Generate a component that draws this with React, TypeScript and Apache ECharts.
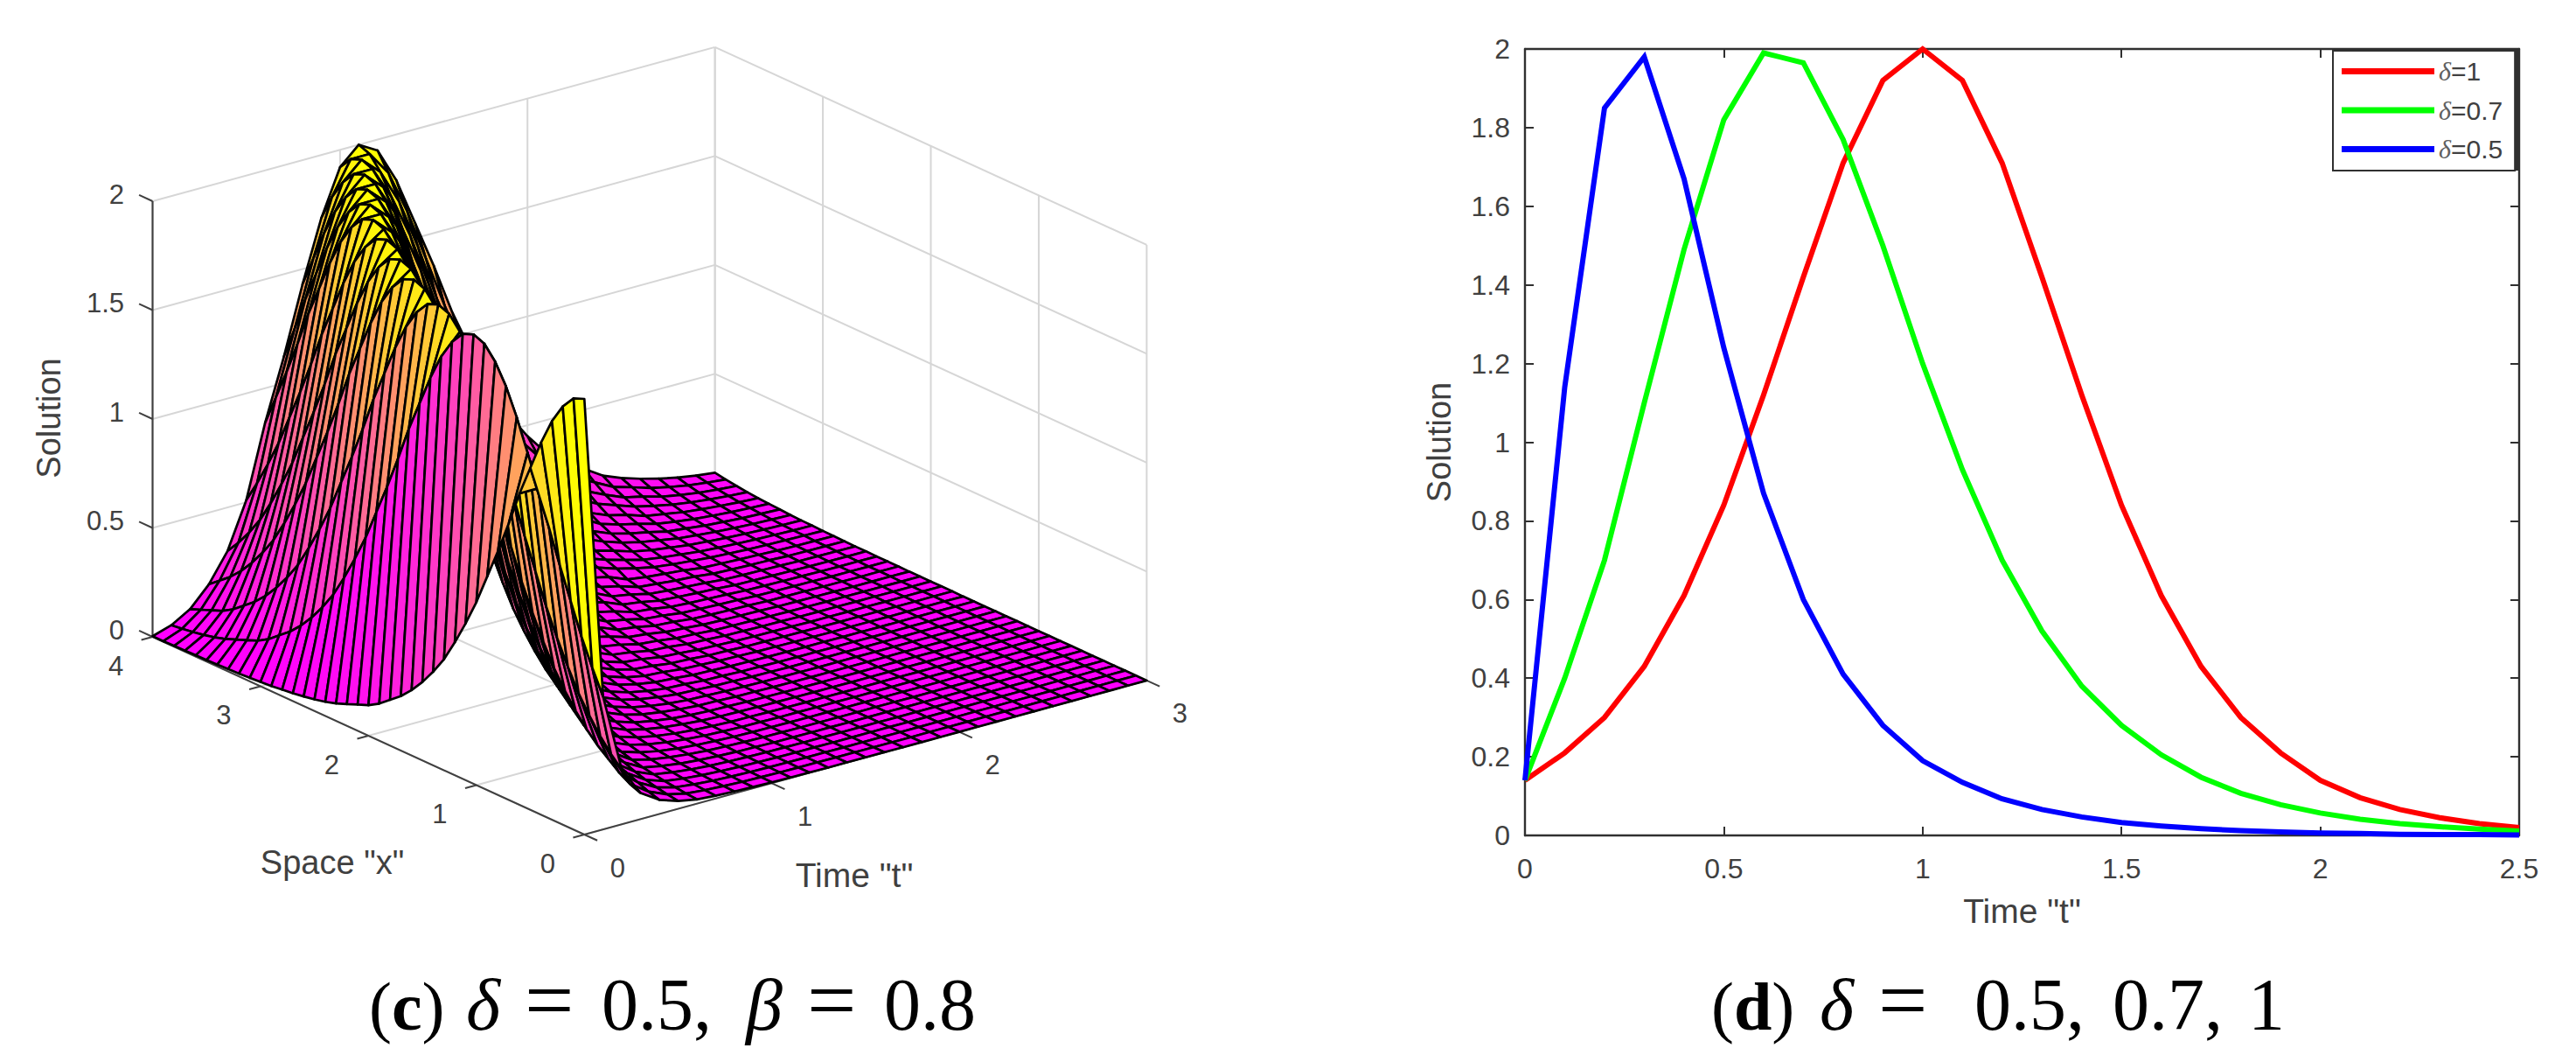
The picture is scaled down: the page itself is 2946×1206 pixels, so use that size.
import React, { useEffect, useRef } from "react";
import * as echarts from "echarts";

// ---------- right panel data ----------
const timeSteps = [0,0.1,0.2,0.3,0.4,0.5,0.6,0.7,0.8,0.9,1,1.1,1.2,1.3,1.4,1.5,1.6,1.7,1.8,1.9,2,2.1,2.2,2.3,2.4,2.5];
const delta1 = [0.14,0.21,0.30,0.43,0.61,0.84,1.12,1.42,1.71,1.92,2,1.92,1.71,1.42,1.12,0.84,0.61,0.43,0.30,0.21,0.14,0.096,0.066,0.045,0.03,0.02];
const delta07 = [0.14,0.4,0.7,1.1,1.49,1.82,1.99,1.965,1.77,1.5,1.2,0.93,0.7,0.52,0.38,0.28,0.205,0.148,0.107,0.078,0.057,0.041,0.03,0.022,0.016,0.011];
const delta05 = [0.14,1.14,1.85,1.98,1.67,1.24,0.87,0.6,0.41,0.28,0.19,0.135,0.093,0.066,0.047,0.033,0.024,0.017,0.012,0.009,0.006,0.005,0.003,0.002,0.002,0.001];

// ---------- left panel data: z per time row (t = 0 .. 3), per space column (x = 0 .. 4) ----------
const gridT = [0,0.1,0.2,0.3,0.4,0.5,0.6,0.7,0.8,0.9,1,1.1,1.2,1.3,1.4,1.5,1.6,1.7,1.8,1.9,2,2.1,2.2,2.3,2.4,2.5,2.6,2.7,2.8,2.9,3];
const gridX = [0,0.1,0.2,0.3,0.4,0.5,0.6,0.7,0.8,0.9,1,1.1,1.2,1.3,1.4,1.5,1.6,1.7,1.8,1.9,2,2.1,2.2,2.3,2.4,2.5,2.6,2.7,2.8,2.9,3,3.1,3.2,3.3,3.4,3.5,3.6,3.7,3.8,3.9,4];
const surfaceZ = [
[2,1.98,1.92,1.83,1.71,1.57,1.43,1.27,1.12,.98,.84,.72,.61,.51,.43,.36,.3,.25,.21,.17,.14,.12,.1,.08,.065,.053,.044,.036,.03,.024,.02,.016,.013,.011,.009,.007,.006,.005,.004,.003,.003],
[.61,.72,.84,.98,1.12,1.27,1.43,1.57,1.71,1.83,1.92,1.98,2,1.98,1.92,1.83,1.71,1.57,1.43,1.27,1.12,.98,.84,.72,.61,.51,.43,.36,.3,.25,.21,.17,.14,.12,.1,.08,.065,.053,.044,.036,.03],
[.25,.3,.36,.43,.51,.61,.72,.84,.98,1.12,1.27,1.43,1.57,1.71,1.83,1.92,1.98,2,1.98,1.92,1.83,1.71,1.57,1.43,1.27,1.12,.98,.84,.72,.61,.51,.43,.36,.3,.25,.21,.17,.14,.12,.1,.08],
[.12,.14,.17,.21,.25,.3,.36,.43,.51,.61,.72,.84,.98,1.12,1.27,1.43,1.57,1.71,1.83,1.92,1.98,2,1.98,1.92,1.83,1.71,1.57,1.43,1.27,1.12,.98,.84,.72,.61,.51,.43,.36,.3,.25,.21,.17],
[.065,.08,.1,.12,.14,.17,.21,.25,.3,.36,.43,.51,.61,.72,.84,.98,1.12,1.27,1.43,1.57,1.71,1.83,1.92,1.98,2,1.98,1.92,1.83,1.71,1.57,1.43,1.27,1.12,.98,.84,.72,.61,.51,.43,.36,.3],
[.036,.044,.053,.065,.08,.1,.12,.14,.17,.21,.25,.3,.36,.43,.51,.61,.72,.84,.98,1.12,1.27,1.43,1.57,1.71,1.83,1.92,1.98,2,1.98,1.92,1.83,1.71,1.57,1.43,1.27,1.12,.98,.84,.72,.61,.51],
[.02,.024,.03,.036,.044,.053,.065,.08,.1,.12,.14,.17,.21,.25,.3,.36,.43,.51,.61,.72,.84,.98,1.12,1.27,1.43,1.57,1.71,1.83,1.92,1.98,2,1.98,1.92,1.83,1.71,1.57,1.43,1.27,1.12,.98,.84],
[.013,.016,.02,.024,.03,.036,.044,.053,.065,.08,.1,.12,.14,.17,.21,.25,.3,.36,.43,.51,.61,.72,.84,.98,1.12,1.27,1.43,1.57,1.71,1.83,1.92,1.98,2,1.98,1.92,1.83,1.71,1.57,1.43,1.27,1.12],
[.009,.011,.013,.016,.02,.024,.03,.036,.044,.053,.065,.08,.1,.12,.14,.17,.21,.25,.3,.36,.43,.51,.61,.72,.84,.98,1.12,1.27,1.43,1.57,1.71,1.83,1.92,1.98,2,1.98,1.92,1.83,1.71,1.57,1.43],
[.006,.007,.009,.011,.013,.016,.02,.024,.03,.036,.044,.053,.065,.08,.1,.12,.14,.17,.21,.25,.3,.36,.43,.51,.61,.72,.84,.98,1.12,1.27,1.43,1.57,1.71,1.83,1.92,1.98,2,1.98,1.92,1.83,1.71],
[.004,.005,.006,.007,.009,.011,.013,.016,.02,.024,.03,.036,.044,.053,.065,.08,.1,.12,.14,.17,.21,.25,.3,.36,.43,.51,.61,.72,.84,.98,1.12,1.27,1.43,1.57,1.71,1.83,1.92,1.98,2,1.98,1.92],
[.003,.003,.004,.005,.006,.007,.009,.011,.013,.016,.02,.024,.03,.036,.044,.053,.065,.08,.1,.12,.14,.17,.21,.25,.3,.36,.43,.51,.61,.72,.84,.98,1.12,1.27,1.43,1.57,1.71,1.83,1.92,1.98,2],
[.002,.002,.003,.003,.004,.005,.006,.007,.009,.011,.013,.016,.02,.024,.03,.036,.044,.053,.065,.08,.1,.12,.14,.17,.21,.25,.3,.36,.43,.51,.65,.77,.90,1.04,1.18,1.33,1.49,1.63,1.76,1.87,1.95],
[.001,.002,.002,.002,.003,.003,.004,.005,.006,.007,.009,.011,.013,.016,.02,.024,.03,.036,.044,.053,.065,.08,.1,.12,.14,.17,.21,.25,.3,.36,.49,.58,.68,.80,.94,1.08,1.22,1.38,1.53,1.67,1.79],
[.001,.001,.002,.002,.002,.003,.003,.004,.005,.006,.007,.009,.011,.013,.016,.02,.024,.03,.036,.044,.053,.065,.08,.1,.12,.14,.17,.21,.25,.3,.36,.43,.51,.61,.72,.84,.98,1.12,1.27,1.43,1.57],
[.001,.001,.001,.001,.002,.002,.002,.003,.003,.004,.005,.006,.007,.009,.011,.013,.016,.02,.024,.03,.036,.044,.053,.065,.08,.1,.12,.14,.17,.21,.275,.33,.395,.47,.56,.66,.78,.91,1.05,1.19,1.35],
[.001,.001,.001,.001,.001,.002,.002,.002,.003,.003,.004,.005,.006,.007,.009,.011,.013,.016,.02,.024,.03,.036,.044,.053,.065,.08,.1,.12,.14,.17,.205,.245,.295,.35,.42,.50,.60,.71,.83,.97,1.11],
[0,0,.001,.001,.001,.001,.001,.002,.002,.002,.003,.003,.004,.005,.006,.007,.009,.011,.013,.016,.02,.024,.03,.036,.044,.053,.065,.08,.1,.12,.155,.19,.23,.275,.33,.395,.47,.56,.66,.78,.91],
[0,0,0,.001,.001,.001,.001,.001,.002,.002,.002,.003,.003,.004,.005,.006,.007,.009,.011,.013,.016,.02,.024,.03,.036,.044,.053,.065,.08,.1,.12,.14,.17,.21,.25,.3,.36,.43,.51,.61,.72],
[0,0,0,0,0,.001,.001,.001,.001,.001,.002,.002,.002,.003,.003,.004,.005,.006,.007,.009,.011,.013,.016,.02,.024,.03,.036,.044,.053,.065,.092,.11,.13,.16,.195,.235,.28,.335,.40,.48,.57],
[0,0,0,0,0,0,.001,.001,.001,.001,.001,.002,.002,.002,.003,.003,.004,.005,.006,.007,.009,.011,.013,.016,.02,.024,.03,.036,.044,.053,.07,.086,.105,.125,.15,.185,.22,.265,.315,.38,.45],
[0,0,0,0,0,0,0,.001,.001,.001,.001,.001,.002,.002,.002,.003,.003,.004,.005,.006,.007,.009,.011,.013,.016,.02,.024,.03,.036,.044,.052,.063,.078,.096,.115,.137,.165,.205,.245,.295,.35],
[0,0,0,0,0,0,0,0,.001,.001,.001,.001,.001,.002,.002,.002,.003,.003,.004,.005,.006,.007,.009,.011,.013,.016,.02,.024,.03,.036,.041,.05,.061,.075,.092,.11,.13,.16,.195,.235,.28],
[0,0,0,0,0,0,0,0,0,0,.001,.001,.001,.001,.001,.002,.002,.002,.003,.003,.004,.005,.006,.007,.009,.011,.013,.016,.02,.024,.033,.04,.049,.06,.074,.09,.108,.13,.155,.19,.23],
[0,0,0,0,0,0,0,0,0,0,0,.001,.001,.001,.001,.001,.002,.002,.002,.003,.003,.004,.005,.006,.007,.009,.011,.013,.016,.02,.025,.03,.037,.045,.054,.066,.08,.1,.12,.145,.175],
[0,0,0,0,0,0,0,0,0,0,0,0,.001,.001,.001,.001,.001,.002,.002,.002,.003,.003,.004,.005,.006,.007,.009,.011,.013,.016,.02,.024,.03,.036,.044,.053,.065,.08,.1,.12,.14],
[0,0,0,0,0,0,0,0,0,0,0,0,0,.001,.001,.001,.001,.001,.002,.002,.002,.003,.003,.004,.005,.006,.007,.009,.011,.013,.015,.019,.023,.028,.034,.041,.05,.062,.076,.093,.113],
[0,0,0,0,0,0,0,0,0,0,0,0,0,0,0,.001,.001,.001,.001,.001,.002,.002,.002,.003,.003,.004,.005,.006,.007,.009,.012,.015,.018,.022,.027,.033,.04,.049,.06,.074,.09],
[0,0,0,0,0,0,0,0,0,0,0,0,0,0,0,0,.001,.001,.001,.001,.001,.002,.002,.002,.003,.003,.004,.005,.006,.007,.01,.012,.014,.017,.021,.026,.032,.039,.047,.058,.071],
[0,0,0,0,0,0,0,0,0,0,0,0,0,0,0,0,0,.001,.001,.001,.001,.001,.002,.002,.002,.003,.003,.004,.005,.006,.008,.009,.011,.014,.017,.021,.025,.031,.038,.047,.057],
[0,0,0,0,0,0,0,0,0,0,0,0,0,0,0,0,0,0,.001,.001,.001,.001,.001,.002,.002,.002,.003,.003,.004,.005,.006,.008,.009,.011,.014,.017,.02,.025,.031,.038,.046],
];

const zTicks = [0, 0.5, 1, 1.5, 2];
const xTicks = [0, 1, 2, 3, 4];
const tTicks = [0, 1, 2, 3];
const zLabels = ["0", "0.5", "1", "1.5", "2"];

// 3D projection: view-plane units per data unit
const KT = [214.3, 58.7];
const KX = [123.4, 56.5];
const KZ = 249;

const AXIS = "#404040";
const WALL = "#d6d6d6";
const SANS = "'Liberation Sans', Arial, sans-serif";
const SERIF = "'Liberation Serif', 'Times New Roman', serif";

type Seg = { a: number[]; b: number[]; color: string; width: number };
type Lab = { p: number[]; dx: number; dy: number; text: string; align: string };

const project = (api: any, p: number[]) => {
  const [t, x, z] = p;
  return api.coord([KT[0] * t - KX[0] * x, KT[1] * t + KX[1] * x + KZ * z]);
};

const buildFrame = () => {
  const segs: Seg[] = [];
  const wall = (a: number[], b: number[]) => segs.push({ a, b, color: WALL, width: 2 });
  const dark = (a: number[], b: number[], width = 2) => segs.push({ a, b, color: AXIS, width });
  zTicks.forEach((z) => {
    if (z > 0) {
      wall([0, 4, z], [3, 4, z]);
      wall([3, 4, z], [3, 0, z]);
    }
  });
  tTicks.forEach((t) => {
    if (t > 0) wall([t, 4, 0], [t, 4, 2]);
    wall([t, 0, 0], [t, 4, 0]);
  });
  xTicks.forEach((x) => {
    wall([3, x, 0], [3, x, 2]);
    wall([0, x, 0], [3, x, 0]);
  });
  dark([0, 4, 0], [0, 4, 2], 2.2);
  dark([0, 4, 0], [0, 0, 0]);
  dark([0, 0, 0], [3, 0, 0]);
  zTicks.forEach((z) => dark([0, 4, z], [0, 4.125, z]));
  xTicks.forEach((x) => dark([0, x, 0], [-0.06, x, 0]));
  tTicks.forEach((t) => dark([t, 0, 0], [t, -0.12, 0]));
  return segs;
};

const buildLabels = () => {
  const labs: Lab[] = [];
  zTicks.forEach((z, i) => labs.push({ p: [0, 4, z], dx: -32.5, dy: -8, text: zLabels[i], align: "right" }));
  xTicks.forEach((x) => labs.push({ p: [0, x, 0], dx: -42, dy: 33, text: String(x), align: "center" }));
  tTicks.forEach((t) => labs.push({ p: [t, 0, 0], dx: 38, dy: 38, text: String(t), align: "center" }));
  return labs;
};

const buildCells = () => {
  const cells: number[][] = [];
  for (let j = gridX.length - 2; j >= 0; j--) {
    for (let i = gridT.length - 2; i >= 0; i--) cells.push([i, j]);
  }
  return cells;
};

const zColor = (z: number) => {
  const g = Math.round(255 * Math.min(1, z / 2));
  return `rgb(255,${g},${255 - g})`;
};

const capPiece = (text: string, x: number, y: number, size: number, extra: any = {}) => ({
  type: "text",
  x,
  y,
  z: 5,
  style: {
    text,
    fontFamily: SERIF,
    fontSize: size,
    fill: "#000000",
    textAlign: "left",
    textVerticalAlign: "middle",
    ...extra,
  },
});

const parenRich = {
  r: { fontFamily: SERIF, fontSize: 78, fill: "#000000" },
  b: { fontFamily: SERIF, fontSize: 78, fontWeight: "bold", fill: "#000000" },
};

export default function App() {
  const ref = useRef<HTMLDivElement>(null);
  useEffect(() => {
    document.body.style.margin = "0";
    const chart = echarts.init(ref.current!, null, { renderer: "svg" });
    const segs = buildFrame();
    const labs = buildLabels();
    const hiddenAxis = { show: false, type: "value" as const };
    const boxLine = { show: true, onZero: false, lineStyle: { color: "#303030", width: 2.4 } };
    const boxTick = { show: true, inside: true, length: 10, lineStyle: { color: "#303030", width: 2 } };
    const lineSeries = (name: string, values: number[], color: string) => ({
      name,
      type: "line",
      xAxisIndex: 1,
      yAxisIndex: 1,
      data: timeSteps.map((t, i) => [t, values[i]]),
      showSymbol: false,
      symbol: "none",
      clip: false,
      color,
      lineStyle: { color, width: 6, join: "miter" },
      z: 3,
    });
    chart.setOption({
      animation: false,
      backgroundColor: "#ffffff",
      grid: [
        { left: 174.5, top: 54, width: 1136.9, height: 900, show: false },
        { left: 1744, top: 56, width: 1137, height: 899, show: false },
      ],
      xAxis: [
        { ...hiddenAxis, gridIndex: 0, min: -493.6, max: 642.9 },
        {
          type: "value", gridIndex: 1, min: 0, max: 2.5, interval: 0.5, position: "bottom",
          axisLine: boxLine, axisTick: boxTick, splitLine: { show: false },
          axisLabel: { color: AXIS, fontFamily: SANS, fontSize: 32, margin: 22 },
          name: 'Time "t"', nameLocation: "middle", nameGap: 67,
          nameTextStyle: { color: AXIS, fontFamily: SANS, fontSize: 39 },
        },
        {
          type: "value", gridIndex: 1, min: 0, max: 2.5, interval: 0.5, position: "top",
          axisLine: boxLine, axisTick: boxTick, splitLine: { show: false }, axisLabel: { show: false },
        },
      ],
      yAxis: [
        { ...hiddenAxis, gridIndex: 0, min: 0, max: 900 },
        {
          type: "value", gridIndex: 1, min: 0, max: 2, interval: 0.2, position: "left",
          axisLine: boxLine, axisTick: boxTick, splitLine: { show: false },
          axisLabel: { color: AXIS, fontFamily: SANS, fontSize: 32, margin: 17 },
          name: "Solution", nameLocation: "middle", nameGap: 79,
          nameTextStyle: { color: AXIS, fontFamily: SANS, fontSize: 38 },
        },
        {
          type: "value", gridIndex: 1, min: 0, max: 2, interval: 0.2, position: "right",
          axisLine: boxLine, axisTick: boxTick, splitLine: { show: false }, axisLabel: { show: false },
        },
      ],
      legend: {
        data: ["δ=1", "δ=0.7", "δ=0.5"],
        orient: "vertical",
        left: 2668,
        top: 57,
        padding: [9.5, 14, 9.5, 10],
        itemWidth: 106,
        itemHeight: 7,
        itemGap: 14.5,
        icon: "rect",
        backgroundColor: "#ffffff",
        borderColor: "#303030",
        borderWidth: 2,
        borderRadius: 0,
        z: 10,
        formatter: (name: string) => `{d|δ}{n|${name.slice(1)}}`,
        textStyle: {
          padding: [0, 0, 0, 0],
          rich: {
            d: { fontFamily: SERIF, fontStyle: "italic", fontSize: 30, color: "#606060", lineHeight: 30 },
            n: { fontFamily: SANS, fontSize: 30, color: AXIS, lineHeight: 30 },
          },
        },
      },
      series: [
        {
          type: "custom",
          name: "frame",
          coordinateSystem: "cartesian2d",
          xAxisIndex: 0,
          yAxisIndex: 0,
          clip: false,
          silent: true,
          progressive: 0,
          data: segs.map(() => [0, 0]),
          renderItem: (params: any, api: any) => {
            const s = segs[params.dataIndex];
            const p0 = project(api, s.a);
            const p1 = project(api, s.b);
            return {
              type: "line",
              shape: { x1: p0[0], y1: p0[1], x2: p1[0], y2: p1[1] },
              style: { stroke: s.color, lineWidth: s.width },
            };
          },
          z: 1,
        },
        {
          type: "custom",
          name: "surface",
          coordinateSystem: "cartesian2d",
          xAxisIndex: 0,
          yAxisIndex: 0,
          clip: false,
          silent: true,
          progressive: 0,
          data: buildCells(),
          renderItem: (_p: any, api: any) => {
            const i = api.value(0);
            const j = api.value(1);
            const pts = [
              [i, j], [i + 1, j], [i + 1, j + 1], [i, j + 1],
            ].map(([a, b]) => project(api, [gridT[a], gridX[b], surfaceZ[a]?.[b] ?? 0]));
            return {
              type: "polygon",
              shape: { points: pts },
              style: { fill: zColor(surfaceZ[i]?.[j] ?? 0), stroke: "#000000", lineWidth: 2.7, lineJoin: "round" },
            };
          },
          z: 2,
        },
        {
          type: "custom",
          name: "labels",
          coordinateSystem: "cartesian2d",
          xAxisIndex: 0,
          yAxisIndex: 0,
          clip: false,
          silent: true,
          progressive: 0,
          data: labs.map(() => [0, 0]),
          renderItem: (params: any, api: any) => {
            const l = labs[params.dataIndex];
            const p = project(api, l.p);
            return {
              type: "text",
              x: p[0] + l.dx,
              y: p[1] + l.dy,
              style: {
                text: l.text, fill: AXIS, fontFamily: SANS, fontSize: 31,
                textAlign: l.align, textVerticalAlign: "middle",
              },
            };
          },
          z: 3,
        },
        lineSeries("δ=1", delta1, "#ff0000"),
        lineSeries("δ=0.7", delta07, "#00ff00"),
        lineSeries("δ=0.5", delta05, "#0000ff"),
      ],
      graphic: [
        { type: "text", x: 56, y: 478, rotation: Math.PI / 2, z: 5,
          style: { text: "Solution", fill: AXIS, fontFamily: SANS, fontSize: 38, textAlign: "center", textVerticalAlign: "middle" } },
        { type: "text", x: 380, y: 986, z: 5,
          style: { text: 'Space "x"', fill: AXIS, fontFamily: SANS, fontSize: 38, textAlign: "center", textVerticalAlign: "middle" } },
        { type: "text", x: 977, y: 1000, z: 5,
          style: { text: 'Time "t"', fill: AXIS, fontFamily: SANS, fontSize: 39, textAlign: "center", textVerticalAlign: "middle" } },
        // caption (c)
        capPiece("{r|(}{b|c}{r|)}", 422, 1150.7, 78, { rich: parenRich }),
        capPiece("δ", 533, 1148, 84, { fontStyle: "italic" }),
        capPiece("=", 600, 1143, 100),
        capPiece("0.5,", 688, 1148, 84),
        capPiece("β", 853, 1148, 84, { fontStyle: "italic" }),
        capPiece("=", 923, 1143, 100),
        capPiece("0.8", 1011, 1148, 84),
        // caption (d)
        capPiece("{r|(}{b|d}{r|)}", 1957, 1150.7, 78, { rich: parenRich }),
        capPiece("δ", 2081, 1148, 84, { fontStyle: "italic" }),
        capPiece("=", 2148, 1143, 100),
        capPiece("0.5,", 2258, 1148, 84),
        capPiece("0.7,", 2416, 1148, 84),
        capPiece("1", 2571, 1148, 84),
        { type: "rect", z: 20, shape: { x: 2668, y: 55.5, width: 212, height: 3.5 }, style: { fill: "#303030" } },
        { type: "rect", z: 20, shape: { x: 2877, y: 56, width: 4, height: 139 }, style: { fill: "#303030" } },
      ],
    });
    return () => chart.dispose();
  }, []);
  return <div ref={ref} style={{ position: "absolute", left: 0, top: 0, width: 2946, height: 1206 }} />;
}
